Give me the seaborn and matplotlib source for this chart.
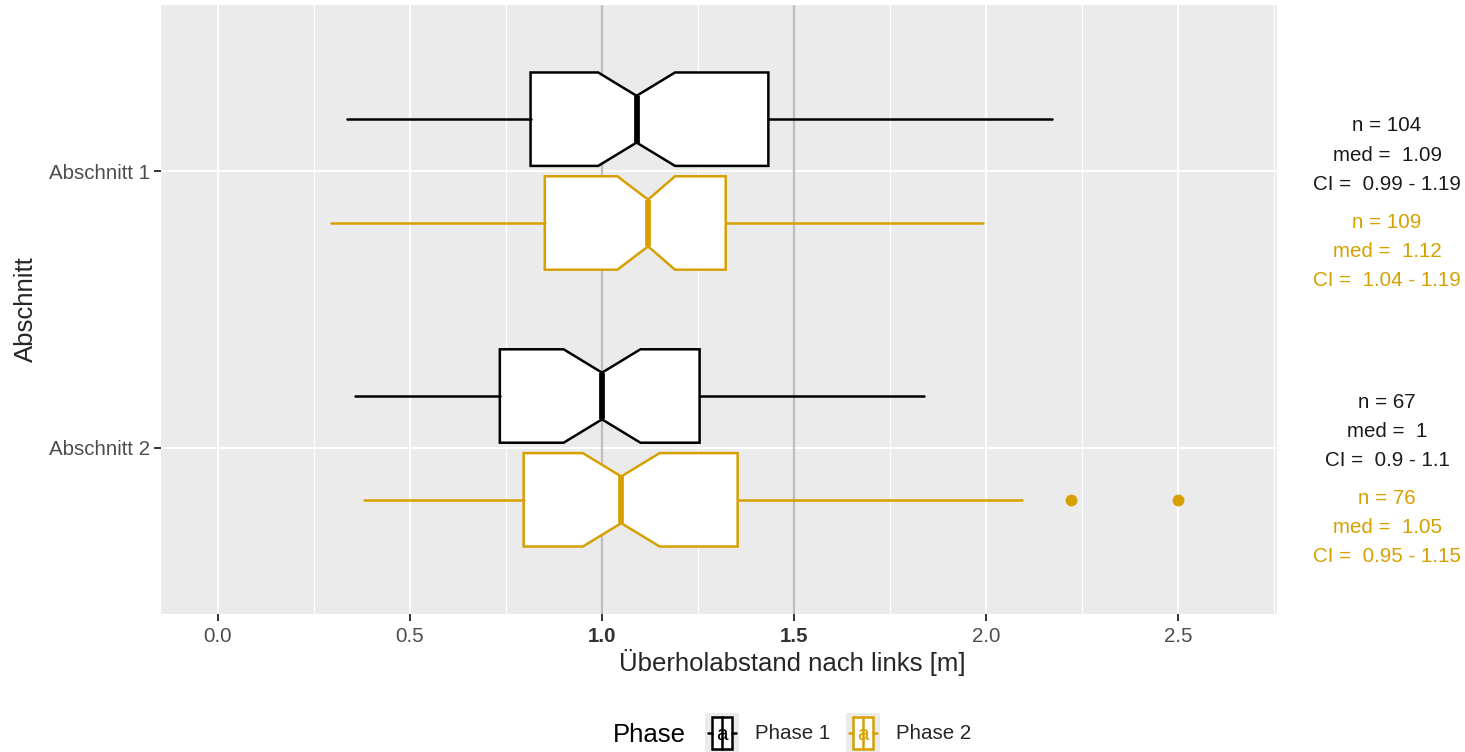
import matplotlib
matplotlib.use("Agg")
import matplotlib.pyplot as plt
import matplotlib.transforms as mtransforms
from matplotlib.legend_handler import HandlerBase
from matplotlib.patches import Rectangle
from matplotlib.lines import Line2D
from matplotlib.text import Text
from matplotlib.ticker import MultipleLocator
import seaborn as sns

# ---- data -------------------------------------------------------------
sections = ["Abschnitt 1", "Abschnitt 2"]
phases = ["Phase 1", "Phase 2"]
phase_colors = ["#000000", "#D6A000"]

# summary statistics, rows = sections, columns = phases
whisker_low = [[0.336, 0.294], [0.356, 0.380]]
q1 = [[0.814, 0.851], [0.734, 0.796]]
median = [[1.09, 1.12], [1.00, 1.05]]
q3 = [[1.433, 1.322], [1.254, 1.353]]
whisker_high = [[2.172, 1.993], [1.839, 2.094]]
ci_low = [[0.99, 1.04], [0.90, 0.95]]
ci_high = [[1.19, 1.19], [1.10, 1.15]]
n_obs = [[104, 109], [67, 76]]
outliers = [[[], []], [[], [2.222, 2.50]]]

x_ticks = [0.0, 0.5, 1.0, 1.5, 2.0, 2.5]
x_tick_labels = ["0.0", "0.5", "1.0", "1.5", "2.0", "2.5"]
reference_lines = [1.0, 1.5]

# ---- style ------------------------------------------------------------
sns.set_theme(style="darkgrid", rc={
    "axes.facecolor": "#EBEBEB",
    "grid.color": "white",
    "xtick.bottom": True,
    "ytick.left": True,
    "xtick.major.size": 5,
    "ytick.major.size": 5,
    "xtick.major.width": 1.4,
    "ytick.major.width": 1.4,
    "xtick.color": "#333333",
    "ytick.color": "#333333",
})
plt.rcParams["font.family"] = ["Liberation Sans", "DejaVu Sans"]

TICK_FS = 14.8
TITLE_FS = 18.5
BOX_LW = 1.8

fig = plt.figure(figsize=(14.65, 7.52), dpi=100)
ax = fig.add_axes([161 / 1465, 1 - 614 / 752, (1277 - 161) / 1465, (614 - 5) / 752])

for s in ax.spines.values():
    s.set_visible(False)

ax.set_xlim(-0.148, 2.757)
ax.set_ylim(1.6, -0.6)

ax.xaxis.set_minor_locator(MultipleLocator(0.25))
ax.grid(which="major", axis="both", color="white", lw=1.5)
ax.grid(which="minor", axis="x", color="white", lw=0.8)
ax.tick_params(which="minor", length=0)
ax.set_axisbelow(True)

for xr in reference_lines:
    ax.axvline(xr, color="#BEBEBE", lw=1.6, zorder=1)

# ---- boxes ------------------------------------------------------------
dodge = 0.1875
box_width = 0.3375
for i, sec in enumerate(sections):
    for j, ph in enumerate(phases):
        col = phase_colors[j]
        pos = i + (-dodge if j == 0 else dodge)
        stats = [dict(med=median[i][j], q1=q1[i][j], q3=q3[i][j],
                      whislo=whisker_low[i][j], whishi=whisker_high[i][j],
                      cilo=ci_low[i][j], cihi=ci_high[i][j],
                      fliers=outliers[i][j], label=ph)]
        ax.bxp(stats, positions=[pos], widths=box_width, orientation="horizontal",
               patch_artist=True, shownotches=True, showcaps=False,
               boxprops=dict(facecolor="white", edgecolor=col, linewidth=BOX_LW),
               whiskerprops=dict(color=col, linewidth=BOX_LW),
               medianprops=dict(color=col, linewidth=BOX_LW * 2.3, solid_capstyle="butt"),
               flierprops=dict(marker="o", markerfacecolor=col, markeredgecolor=col,
                               markersize=7.5, linestyle="none"),
               manage_ticks=False, zorder=3)

# ---- axes labels ------------------------------------------------------
ax.set_xticks(x_ticks)
ax.set_xticklabels(x_tick_labels, fontsize=TICK_FS, color="#4D4D4D")
for lab, val in zip(ax.get_xticklabels(), x_ticks):
    if val in reference_lines:
        lab.set_fontweight("bold")
        lab.set_color("#333333")
ax.tick_params(axis="x", pad=4)
ax.set_yticks(range(len(sections)))
ax.set_yticklabels(sections, fontsize=TICK_FS, color="#4D4D4D")
ax.tick_params(axis="y", pad=3)

ax.set_xlabel("Überholabstand nach links [m]", fontsize=TITLE_FS, va="center")
ax.xaxis.set_label_coords((792 - 161) / 1116, (614 - 662) / 609)
ax.set_ylabel("Abschnitt", fontsize=TITLE_FS, va="center")
ax.yaxis.set_label_coords((26 - 161) / 1116, 0.5)

# ---- per-group summary text to the right of the panel -------------------
def fmt(v):
    return f"{v:g}"

trans = mtransforms.blended_transform_factory(ax.transAxes, ax.transData)
line_step = 0.105
block_offsets = [-0.163, 0.184]
text_colors = ["#1A1A1A", phase_colors[1]]
for i, sec in enumerate(sections):
    for j, ph in enumerate(phases):
        lines = [f"n = {n_obs[i][j]}",
                 f"med =  {fmt(median[i][j])}",
                 f"CI =  {fmt(ci_low[i][j])} - {fmt(ci_high[i][j])}"]
        for k, txt in enumerate(lines):
            ax.text(1.0986, i + block_offsets[j] + k * line_step, txt,
                    transform=trans, ha="center", va="center",
                    fontsize=TICK_FS, color=text_colors[j], clip_on=False)

# ---- legend -----------------------------------------------------------
class BoxKey(HandlerBase):
    def __init__(self, color):
        super().__init__()
        self.color = color

    def create_artists(self, legend, orig_handle, xdescent, ydescent,
                       width, height, fontsize, trans):
        x0, y0 = -xdescent, -ydescent
        cx, cy = x0 + width / 2, y0 + height / 2
        bw, bh = width * 0.6, height * 0.8
        bg = Rectangle((x0, y0), width, height, facecolor="#EBEBEB",
                       edgecolor="none", transform=trans)
        box = Rectangle((cx - bw / 2, cy - bh / 2), bw, bh, facecolor="white",
                        edgecolor=self.color, lw=BOX_LW, transform=trans)
        med = Line2D([cx, cx], [cy - bh / 2, cy + bh / 2], color=self.color,
                     lw=BOX_LW, transform=trans)
        wl = Line2D([x0 + width * 0.08, cx - bw / 2], [cy, cy], color=self.color,
                    lw=BOX_LW, transform=trans)
        wr = Line2D([cx + bw / 2, x0 + width * 0.92], [cy, cy], color=self.color,
                    lw=BOX_LW, transform=trans)
        letter = Text(cx, cy, "a", color=self.color, ha="center",
                      va="center_baseline", fontsize=fontsize * 1.0, transform=trans)
        return [bg, box, med, wl, wr, letter]

handles = [Line2D([], [], color=c) for c in phase_colors]
handler_map = {h: BoxKey(c) for h, c in zip(handles, phase_colors)}
fig.legend(handles, phases, handler_map=handler_map, ncol=2,
           loc="center left", bbox_to_anchor=(705 / 1465, 1 - 733 / 752),
           bbox_transform=fig.transFigure, frameon=False, fontsize=TICK_FS,
           borderpad=0, borderaxespad=0, handlelength=1.65, handleheight=2.6,
           handletextpad=0.8, columnspacing=0.75)
fig.text(613 / 1465, 1 - 735 / 752, "Phase", fontsize=TITLE_FS, ha="left",
         va="center", color="black")

fig.savefig("out.png", dpi=100)
